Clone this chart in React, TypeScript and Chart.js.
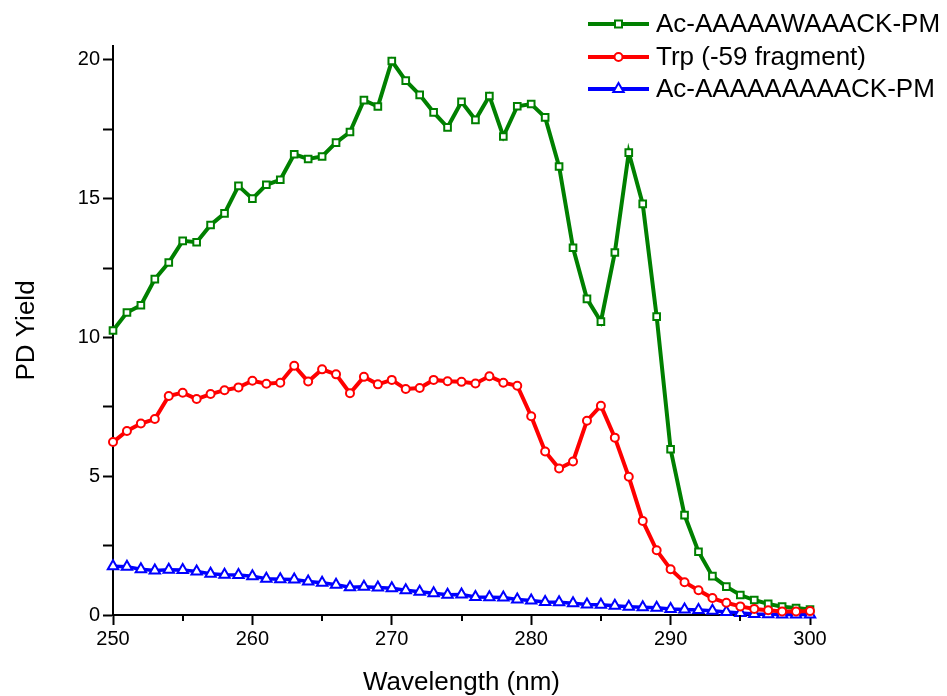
import React, { useEffect, useRef } from 'react';
import { Chart, registerables } from 'chart.js';

Chart.register(...registerables);

const wavelengths = [
  250, 251, 252, 253, 254, 255, 256, 257, 258, 259,
  260, 261, 262, 263, 264, 265, 266, 267, 268, 269,
  270, 271, 272, 273, 274, 275, 276, 277, 278, 279,
  280, 281, 282, 283, 284, 285, 286, 287, 288, 289,
  290, 291, 292, 293, 294, 295, 296, 297, 298, 299, 300,
];

const peptideW = [
  10.25, 10.9, 11.16, 12.1, 12.7, 13.48, 13.43, 14.05, 14.47, 15.46,
  15.0, 15.5, 15.68, 16.6, 16.43, 16.52, 17.02, 17.4, 18.55, 18.32,
  19.96, 19.25, 18.74, 18.11, 17.57, 18.49, 17.84, 18.7, 17.24, 18.33,
  18.41, 17.93, 16.16, 13.23, 11.39, 10.57, 13.06, 16.66, 14.81, 10.75,
  5.97, 3.6, 2.28, 1.4, 1.02, 0.72, 0.54, 0.4, 0.3, 0.25, 0.2,
];

const trpFragment = [
  6.23, 6.63, 6.9, 7.06, 7.89, 8.01, 7.78, 7.96, 8.1, 8.2,
  8.44, 8.33, 8.37, 8.98, 8.41, 8.85, 8.67, 7.99, 8.58, 8.31,
  8.47, 8.14, 8.18, 8.47, 8.42, 8.4, 8.34, 8.6, 8.37, 8.26,
  7.16, 5.89, 5.28, 5.53, 7.0, 7.54, 6.39, 4.98, 3.39, 2.33,
  1.65, 1.18, 0.89, 0.61, 0.44, 0.31, 0.22, 0.17, 0.13, 0.13, 0.14,
];

const peptideA = [
  1.76, 1.74, 1.65, 1.6, 1.63, 1.62, 1.57, 1.49, 1.45, 1.44,
  1.4, 1.31, 1.29, 1.28, 1.21, 1.16, 1.09, 1.0, 1.02, 0.99,
  0.96, 0.89, 0.84, 0.78, 0.73, 0.74, 0.65, 0.64, 0.63, 0.56,
  0.52, 0.47, 0.46, 0.42, 0.38, 0.37, 0.33, 0.3, 0.28, 0.26,
  0.22, 0.2, 0.18, 0.15, 0.11, 0.07, 0.04, 0.03, 0.02, 0.02, 0.02,
];

const seriesNames = ['Ac-AAAAAWAAACK-PM', 'Trp (-59 fragment)', 'Ac-AAAAAAAAACK-PM'];
const seriesColors = ['#008000', '#ff0000', '#0000ff'];
const seriesMarkers = ['rect', 'circle', 'triangle'];

const xTickLabels = [250, 260, 270, 280, 290, 300];
const yTickLabels = [0, 5, 10, 15, 20];

const FONT = '"Liberation Sans", Arial, Helvetica, sans-serif';

function drawMarker(ctx: CanvasRenderingContext2D, style: string, x: number, y: number, color: string) {
  ctx.save();
  ctx.fillStyle = '#fff';
  ctx.strokeStyle = color;
  ctx.lineWidth = 2;
  ctx.beginPath();
  if (style === 'rect') {
    ctx.rect(x - 3.5, y - 3.5, 7, 7);
  } else if (style === 'circle') {
    ctx.arc(x, y, 4, 0, Math.PI * 2);
  } else {
    const r = 6;
    ctx.moveTo(x, y - r);
    ctx.lineTo(x + r * Math.cos(Math.PI / 6), y + r / 2);
    ctx.lineTo(x - r * Math.cos(Math.PI / 6), y + r / 2);
    ctx.closePath();
  }
  ctx.fill();
  ctx.stroke();
  ctx.restore();
}

const extrasPlugin = {
  id: 'extras',
  afterDraw(chart: any) {
    const ctx: CanvasRenderingContext2D = chart.ctx;
    const xs = chart.scales.x;
    const bottom = chart.chartArea.bottom;
    ctx.save();
    // minor x ticks
    ctx.strokeStyle = '#000';
    ctx.lineWidth = 2;
    for (let i = 0; i < xTickLabels.length - 1; i++) {
      const v = (xTickLabels[i] + xTickLabels[i + 1]) / 2;
      const px = Math.round(xs.getPixelForValue(v));
      ctx.beginPath();
      ctx.moveTo(px, bottom);
      ctx.lineTo(px, bottom + 6);
      ctx.stroke();
    }
    // legend
    const legendX = 588;
    const lineLen = 61;
    const rowY = [24, 57, 89];
    ctx.font = `26px ${FONT}`;
    ctx.textBaseline = 'middle';
    ctx.textAlign = 'left';
    seriesNames.forEach((name, i) => {
      const y = rowY[i];
      ctx.strokeStyle = seriesColors[i];
      ctx.lineWidth = 4;
      ctx.beginPath();
      ctx.moveTo(legendX, y);
      ctx.lineTo(legendX + lineLen, y);
      ctx.stroke();
      drawMarker(ctx, seriesMarkers[i], legendX + lineLen / 2, y, seriesColors[i]);
      ctx.fillStyle = '#000';
      ctx.fillText(name, legendX + lineLen + 7, y + 1);
    });
    ctx.restore();
  },
};

export default function App() {
  const canvasRef = useRef<HTMLCanvasElement | null>(null);

  useEffect(() => {
    const canvas = canvasRef.current;
    if (!canvas) return;

    const makeDataset = (i: number, values: number[], radius: number, order: number, lw: number) => ({
      label: seriesNames[i],
      data: wavelengths.map((w, k) => ({ x: w, y: values[k] })),
      borderColor: seriesColors[i],
      backgroundColor: seriesColors[i],
      borderWidth: lw,
      pointStyle: seriesMarkers[i],
      pointRadius: radius,
      pointBorderWidth: 2,
      pointBackgroundColor: '#ffffff',
      pointBorderColor: seriesColors[i],
      tension: 0,
      clip: false as any,
      order,
    });

    const chart = new Chart(canvas, {
      type: 'line',
      data: {
        datasets: [
          makeDataset(0, peptideW, 4.7, 1, 4),
          makeDataset(1, trpFragment, 4, 0, 4),
          makeDataset(2, peptideA, 6, 2, 3.5),
        ],
      },
      options: {
        animation: false,
        responsive: false,
        layout: { padding: { left: 0, right: 137, top: 46, bottom: 0 } },
        plugins: {
          legend: { display: false },
          tooltip: { enabled: false },
        },
        scales: {
          x: {
            type: 'linear',
            min: 250,
            max: 300,
            afterFit: (s: any) => {
              s.height = 81;
            },
            border: { display: true, color: '#000', width: 2 },
            grid: {
              display: true,
              drawOnChartArea: false,
              drawTicks: true,
              tickLength: 10,
              tickColor: '#000',
              tickWidth: 2,
            },
            ticks: {
              stepSize: 10,
              color: '#000',
              padding: 2,
              maxRotation: 0,
              font: { family: FONT, size: 20 },
              callback: (v: any) => (xTickLabels.includes(Number(v)) ? String(v) : ''),
            },
            title: {
              display: true,
              text: 'Wavelength (nm)',
              color: '#000',
              font: { family: FONT, size: 26, lineHeight: 1 },
              padding: { top: 0, bottom: 0 },
            },
          },
          y: {
            type: 'linear',
            min: 0,
            max: 20.5,
            afterFit: (s: any) => {
              s.width = 113;
            },
            border: { display: true, color: '#000', width: 2 },
            grid: {
              display: true,
              drawOnChartArea: false,
              drawTicks: true,
              tickLength: 10,
              tickColor: '#000',
              tickWidth: 2,
            },
            ticks: {
              stepSize: 2.5,
              includeBounds: false,
              color: '#000',
              padding: 3,
              font: { family: FONT, size: 20 },
              callback: (v: any) => (yTickLabels.includes(Number(v)) ? String(v) : ''),
            },
            title: {
              display: true,
              text: 'PD Yield',
              color: '#000',
              font: { family: FONT, size: 26, lineHeight: 1 },
              padding: { top: 14, bottom: 0 },
            },
          },
        },
      },
      plugins: [extrasPlugin],
    } as any);

    return () => {
      chart.destroy();
    };
  }, []);

  return (
    <div style={{ position: 'absolute', left: 0, top: 0, width: 947, height: 696, background: '#fff' }}>
      <canvas ref={canvasRef} width={947} height={696} style={{ width: 947, height: 696 }} />
    </div>
  );
}
